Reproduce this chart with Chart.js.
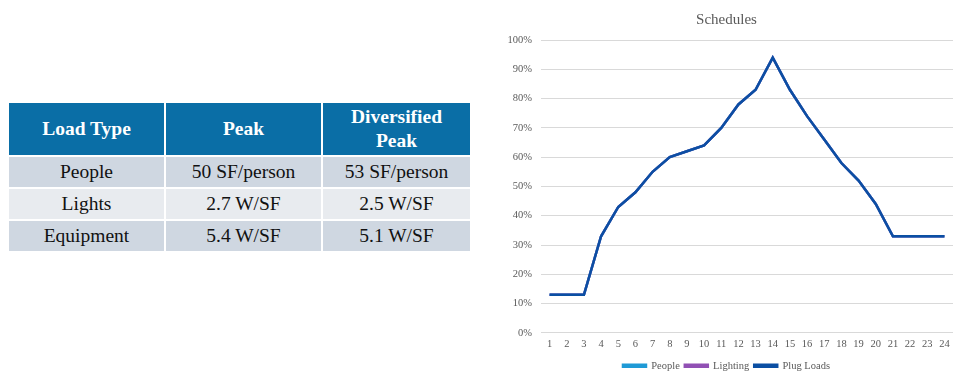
<!DOCTYPE html>
<html>
<head>
<meta charset="utf-8">
<script src="https://cdn.jsdelivr.net/npm/chart.js@4/dist/chart.umd.min.js"></script>
<style>
  body { margin: 0; background: #fff; width: 975px; height: 385px; overflow: hidden; position: relative; }
  #loadTable {
    position: absolute; left: 7px; top: 101px; width: 465px;
    border-collapse: collapse; font-family: "Liberation Serif", serif; font-size: 19.5px;
    text-align: center;
  }
  #loadTable td, #loadTable th { border: 2px solid #fff; padding: 0; }
  #loadTable th { background: #0a6ea6; color: #fff; font-weight: bold; height: 52px; line-height: 24px; }
  #loadTable td { height: 30px; color: #111; }
  #loadTable tr.dark td { background: #cfd7e1; }
  #loadTable tr.light td { background: #e8ebef; }
  #chartBox { position: absolute; left: 500px; top: 0; width: 475px; height: 385px; }
</style>
</head>
<body>
<table id="loadTable"></table>
<div id="chartBox"><canvas id="scheduleChart"></canvas></div>
<script>
// Table contents
const tableHeader = ['Load Type', 'Peak', 'Diversified<br>Peak'];
const loadTypes = ['People', 'Lights', 'Equipment'];
const peakValues = ['50 SF/person', '2.7 W/SF', '5.4 W/SF'];
const diversifiedValues = ['53 SF/person', '2.5 W/SF', '5.1 W/SF'];

// Chart data (hour of day, fraction of peak in %)
const hours = ['1','2','3','4','5','6','7','8','9','10','11','12','13','14','15','16','17','18','19','20','21','22','23','24'];
const peopleSchedule   = [13,13,13,33,43,48,55,60,62,64,70,78,83,94,83,74,66,58,52,44,33,33,33,33];
const lightingSchedule = [13,13,13,33,43,48,55,60,62,64,70,78,83,94,83,74,66,58,52,44,33,33,33,33];
const plugSchedule     = [13,13,13,33,43,48,55,60,62,64,70,78,83,94,83,74,66,58,52,44,33,33,33,33];
const yTicks = [0,10,20,30,40,50,60,70,80,90,100];

// build the table
const table = document.getElementById('loadTable');
let html = '<tr>' + tableHeader.map(h => `<th>${h}</th>`).join('') + '</tr>';
loadTypes.forEach((t, i) => {
  html += `<tr class="${i % 2 === 0 ? 'dark' : 'light'}"><td>${t}</td><td>${peakValues[i]}</td><td>${diversifiedValues[i]}</td></tr>`;
});
table.innerHTML = html;
table.rows[0].cells[0].style.width = '155px';
table.rows[0].cells[1].style.width = '155px';

const serif = '"Liberation Serif", serif';
const ctx = document.getElementById('scheduleChart').getContext('2d');
new Chart(ctx, {
  type: 'line',
  data: {
    labels: hours,
    datasets: [
      { label: 'People', data: peopleSchedule, borderColor: '#1f9ad6', backgroundColor: '#1f9ad6', borderWidth: 2.5, pointRadius: 0, tension: 0, order: 3 },
      { label: 'Lighting', data: lightingSchedule, borderColor: '#9150b4', backgroundColor: '#9150b4', borderWidth: 2.5, pointRadius: 0, tension: 0, order: 2 },
      { label: 'Plug Loads', data: plugSchedule, borderColor: '#0b4fa3', backgroundColor: '#0b4fa3', borderWidth: 2.5, pointRadius: 0, tension: 0, order: 1 }
    ]
  },
  options: {
    responsive: true,
    maintainAspectRatio: false,
    animation: false,
    layout: { padding: { top: 4, right: 22, bottom: 4, left: 0 } },
    plugins: {
      title: {
        display: true,
        text: 'Schedules',
        color: '#595959',
        font: { family: serif, size: 15, weight: 'normal' },
        padding: { top: 7, bottom: 11 }
      },
      legend: {
        position: 'bottom',
        labels: {
          color: '#595959',
          font: { family: serif, size: 10.5 },
          boxWidth: 23,
          boxHeight: 2,
          padding: 5,
          sort: (a, b) => a.datasetIndex - b.datasetIndex
        }
      },
      tooltip: { enabled: false }
    },
    scales: {
      x: {
        offset: true,
        grid: { display: false, drawTicks: false },
        border: { display: false },
        ticks: { color: '#595959', font: { family: serif, size: 10.5 }, maxRotation: 0, autoSkip: false, padding: 5 }
      },
      y: {
        min: 0,
        max: 100,
        afterFit: (scale) => { scale.width = 41; },
        afterBuildTicks: (scale) => { scale.ticks = yTicks.map(v => ({ value: v })); },
        grid: { color: '#d9d9d9', drawTicks: false },
        border: { display: false },
        ticks: { color: '#595959', font: { family: serif, size: 10.5 }, padding: 9, callback: (v) => v + '%' }
      }
    }
  }
});
</script>
</body>
</html>
